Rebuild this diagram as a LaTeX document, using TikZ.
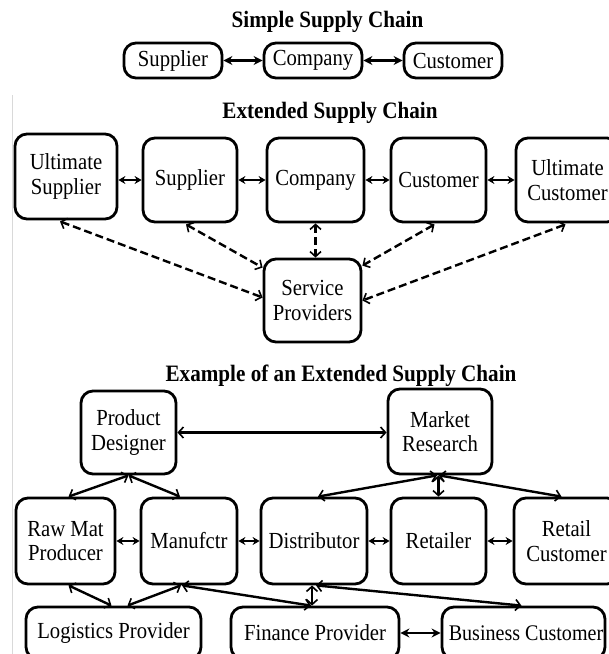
\documentclass[tikz,border=0pt]{standalone}
\usepackage{fontspec}
\setmainfont[FakeStretch=0.9]{Liberation Serif}
\usetikzlibrary{arrows.meta,calc}
\begin{document}
\begin{tikzpicture}[x=1pt,y=-1pt,
  box/.style={draw, line width=2.8pt, rounded corners=12pt, align=center,
    inner sep=0pt, font=\fontsize{23}{24.5}\selectfont},
  heading/.style={font=\bfseries\fontsize{23.5}{25}\selectfont, anchor=base, inner sep=0pt},
  link/.style={line width=2.6pt, >={Stealth[length=9pt,width=9pt]}, <->},
  shortlink/.style={line width=2.4pt, >={Stealth[length=7pt,width=8pt]}, <->},
  longlink/.style={line width=2.4pt,
    >={Straight Barb[length=5pt,width=11pt,line width=1.6pt]}, <->},
  svclink/.style={longlink, dash pattern=on 8pt off 4pt},
]
\useasboundingbox (0,0) rectangle (609,654);
\clip (0,0) rectangle (609,654);

% faint rule along the left side
\draw[gray!30, line width=0.8pt] (12.5,95) -- (12.5,654);

% ---------- simple chain ----------
\node[heading] (t1) at (327.5,27) {Simple Supply Chain};
\node[box, minimum width=98pt, minimum height=35pt] (s1) at (173,60.5) {Supplier};
\node[box, minimum width=98pt, minimum height=35pt] (s2) at (313,60.5) {Company};
\node[box, minimum width=98pt, minimum height=35pt] (s3) at (453,60.5) {Customer};
\draw[link] (s1) -- (s2);
\draw[link] (s2) -- (s3);

% ---------- extended chain ----------
\node[heading] (t2) at (330,118) {Extended Supply Chain};
\node[box, minimum width=102pt, minimum height=85pt] (e1) at (66,176.5) {Ultimate\\Supplier};
\node[box, minimum width=94pt, minimum height=84pt] (e2) at (190,180) {Supplier};
\node[box, minimum width=97pt, minimum height=84pt] (e3) at (315.5,180) {Company};
\node[box, minimum width=95pt, minimum height=84pt] (e4) at (438.5,180) {Customer};
\node[box, minimum width=103pt, minimum height=84pt] (e5) at (567.5,180) {Ultimate\\Customer};
\node[box, minimum width=97pt, minimum height=83pt] (sp) at (312.5,300.5) {Service\\Providers};

\draw[shortlink] (e1.east |- e2.west) -- (e2.west);
\draw[shortlink] (e2) -- (e3);
\draw[shortlink] (e3) -- (e4);
\draw[shortlink] (e4) -- (e5);

\draw[svclink] ($(e1.south)+(-6,1)$) -- ($(sp.west)+(0,-3)$);
\draw[svclink] ($(e2.south)+(-4,1)$) -- ($(sp.north west)+(0,10)$);
\draw[svclink] (e3.south) -- (e3.south |- sp.north);
\draw[svclink] ($(e4.south)+(-4,1)$) -- ($(sp.north east)+(0,8)$);
\draw[svclink] ($(e5.south)+(-2,1)$) -- (sp.east);

% ---------- example chain ----------
\node[heading] (t3) at (341,381) {Example of an Extended Supply Chain};
\node[box, minimum width=95pt, minimum height=83pt] (pd) at (128.5,432.5) {Product\\Designer};
\node[box, minimum width=104pt, minimum height=85pt] (mr) at (440,431.5) {Market\\Research};

\node[box, minimum width=99pt, minimum height=86pt] (rmp) at (65.5,541) {Raw Mat\\Producer};
\node[box, minimum width=96pt, minimum height=86pt] (mf) at (189,541) {Manufctr};
\node[box, minimum width=106pt, minimum height=86pt] (di) at (314,541) {Distributor};
\node[box, minimum width=95pt, minimum height=86pt] (re) at (438.5,541) {Retailer};
\node[box, minimum width=105pt, minimum height=86pt] (rc) at (566.5,541) {Retail\\Customer};

\node[box, minimum width=175pt, minimum height=52pt] (lp) at (113.5,633) {Logistics Provider};
\node[box, minimum width=168pt, minimum height=52pt] (fp) at (315,633) {Finance Provider};
\node[box, minimum width=163pt, minimum height=52pt, font=\fontsize{22.3}{24}\selectfont]
  (bc) at (523.5,633) {\hspace*{5pt}Business Customer};

\draw[longlink] (pd.east) -- (mr.west |- pd.east);
\draw[longlink] (pd.south) -- ($(rmp.north)+(3,0)$);
\draw[longlink] (pd.south) -- ($(mf.north)+(-9,0)$);
\draw[longlink] ($(mr.south)+(-3,0)$) -- ($(di.north)+(4,0)$);
\draw[longlink] (re.north) -- (re.north |- mr.south);
\draw[longlink] ($(mr.south)+(-1,0)$) -- ($(rc.north)+(-5,0)$);

\draw[shortlink] (rmp) -- (mf);
\draw[shortlink] (mf) -- (di);
\draw[shortlink] (di) -- (re);
\draw[shortlink] (re) -- (rc);

\draw[longlink] ($(rmp.south)+(3,0)$) -- ($(lp.north)+(-2,0)$);
\draw[longlink] ($(mf.south)+(-8,0)$) -- ($(lp.north)+(14,0)$);
\draw[longlink] ($(mf.south)+(-7,0)$) -- ($(fp.north)+(-4,0)$);
\draw[longlink] ($(di.south)+(-2,0)$) -- ($(fp.north)+(-3,0)$);
\draw[longlink] ($(di.south)+(2,0)$) -- ($(bc.north)+(-2,0)$);
\draw[link] (fp) -- (bc);
\end{tikzpicture}
\end{document}
